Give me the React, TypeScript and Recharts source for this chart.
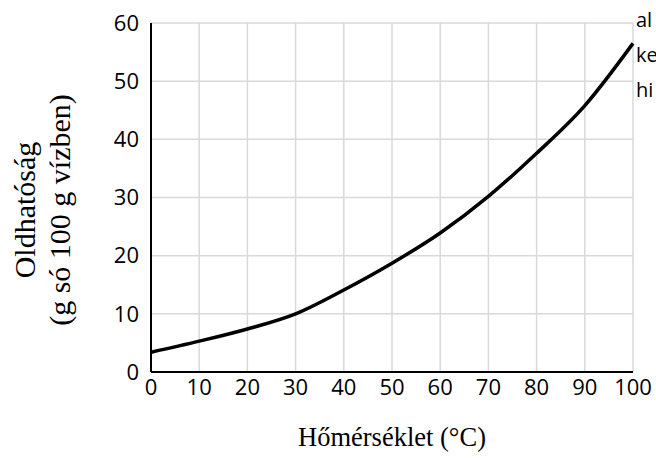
import React from 'react';
import { LineChart, Line, XAxis, YAxis, CartesianGrid } from 'recharts';

const temperatures = [0, 10, 20, 30, 40, 50, 60, 70, 80, 90, 100];
const solubility = [3.4, 5.3, 7.4, 10.0, 14.1, 18.7, 23.9, 30.2, 37.6, 45.8, 56.5];
const xTicks = [0, 10, 20, 30, 40, 50, 60, 70, 80, 90, 100];
const yTicks = [0, 10, 20, 30, 40, 50, 60];
const sideTexts = ['al', 'ke', 'hi'];

const data = temperatures.map((t, i) => ({ t, s: solubility[i] }));

const tickFont = { fontFamily: '"Open Sans", sans-serif', fontSize: 22, fill: '#000' };
const serif = '"Times New Roman", "Liberation Serif", Tinos, serif';

export default function App() {
  return (
    <div style={{ position: 'absolute', left: 0, top: 0, width: 656, height: 458, background: '#fff', overflow: 'hidden' }}>
      <LineChart width={656} height={458} data={data} margin={{ top: 23, right: 23, bottom: 56, left: 91 }}>
        <CartesianGrid stroke="#d9d9d9" strokeWidth={1.5} />
        <XAxis
          dataKey="t"
          type="number"
          domain={[0, 100]}
          ticks={xTicks}
          interval={0}
          height={30}
          tickLine={false}
          axisLine={{ stroke: '#000', strokeWidth: 2 }}
          tick={tickFont}
          tickMargin={1}
        />
        <YAxis
          type="number"
          domain={[0, 60]}
          ticks={yTicks}
          interval={0}
          width={60}
          tickLine={false}
          axisLine={{ stroke: '#000', strokeWidth: 2 }}
          tick={tickFont}
          tickMargin={6}
        />
        <Line
          type="monotone"
          dataKey="s"
          stroke="#000"
          strokeWidth={3.5}
          dot={false}
          isAnimationActive={false}
        />
      </LineChart>
      <div style={{ position: 'absolute', left: 636, top: 2, fontFamily: '"Open Sans", sans-serif', fontSize: 20, lineHeight: '35px', color: '#000', whiteSpace: 'nowrap' }}>
        {sideTexts.map((s) => (
          <div key={s}>{s}</div>
        ))}
      </div>
      <div style={{ position: 'absolute', left: 392, top: 437, transform: 'translate(-50%, -50%)', fontFamily: serif, fontSize: 26.5, color: '#000', whiteSpace: 'nowrap' }}>
        Hőmérséklet (°C)
      </div>
      <div style={{ position: 'absolute', left: 42, top: 210, transform: 'translate(-50%, -50%) rotate(-90deg)', fontFamily: serif, fontSize: 30, lineHeight: '35px', color: '#000', whiteSpace: 'nowrap', textAlign: 'center' }}>
        <div>Oldhatóság</div>
        <div>(g só 100 g vízben)</div>
      </div>
    </div>
  );
}
